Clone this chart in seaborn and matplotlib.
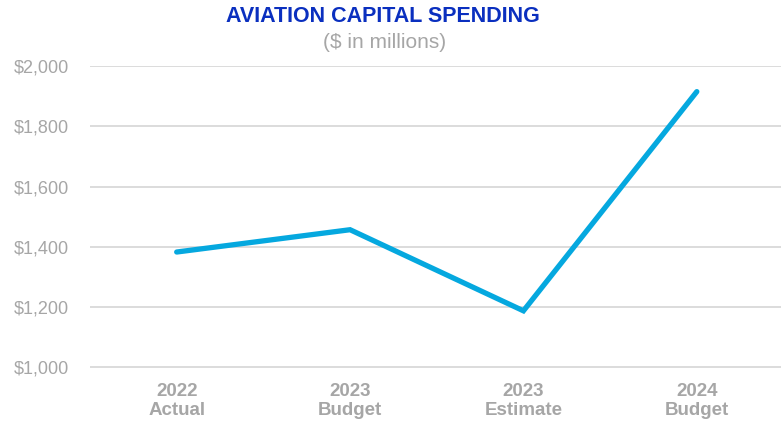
import matplotlib
matplotlib.use("Agg")
import matplotlib.pyplot as plt
import seaborn as sns
import pandas as pd
from matplotlib.ticker import FuncFormatter

# Aviation capital spending, $ in millions
periods = ["2022\nActual", "2023\nBudget", "2023\nEstimate", "2024\nBudget"]
spending = [1383, 1457, 1188, 1915]
y_ticks = [1000, 1200, 1400, 1600, 1800, 2000]

df = pd.DataFrame({"period": periods, "spending": spending, "pos": range(len(periods))})

sns.set_theme(style="white")
plt.rcParams["font.family"] = ["Liberation Sans", "DejaVu Sans"]

W, H = 781, 424
left, right, top, bottom = 90, 783.5, 66, 367.5
fig = plt.figure(figsize=(W / 100, H / 100), dpi=100)
ax = fig.add_axes([left / W, (H - bottom) / H, (right - left) / W, (bottom - top) / H])

sns.lineplot(data=df, x="pos", y="spending", ax=ax, color="#05A8DF",
             linewidth=3.8, solid_capstyle="round", solid_joinstyle="miter")

ax.set_ylim(1000, 2000)
ax.set_xlim(-0.5, 3.5)
ax.set_yticks(y_ticks)
ax.yaxis.set_major_formatter(FuncFormatter(lambda v, _: f"${v:,.0f}"))
ax.set_xticks(range(len(periods)))
ax.set_xticklabels(periods, fontweight="bold", color="#A6A6A6", fontsize=13.5,
                   linespacing=1.12)
ax.tick_params(axis="y", colors="#A6A6A6", labelsize=13, length=0, pad=15)
ax.tick_params(axis="x", length=0, pad=11.5)
for lbl in ax.get_yticklabels():
    lbl.set_color("#A6A6A6")

ax.grid(axis="y", color="#D9D9D9", linewidth=1.3)
ax.set_axisbelow(True)
for s in ax.spines.values():
    s.set_visible(False)
ax.set_xlabel("")
ax.set_ylabel("")

fig.text(383 / W, 1 - 16 / H, "AVIATION CAPITAL SPENDING", ha="center", va="center",
         fontsize=15.5, fontweight="bold", color="#0A2FBF")
fig.text(385 / W, 1 - 43 / H, "($ in millions)", ha="center", va="center",
         fontsize=15, color="#A6A6A6")

fig.savefig("out.png", dpi=100)
